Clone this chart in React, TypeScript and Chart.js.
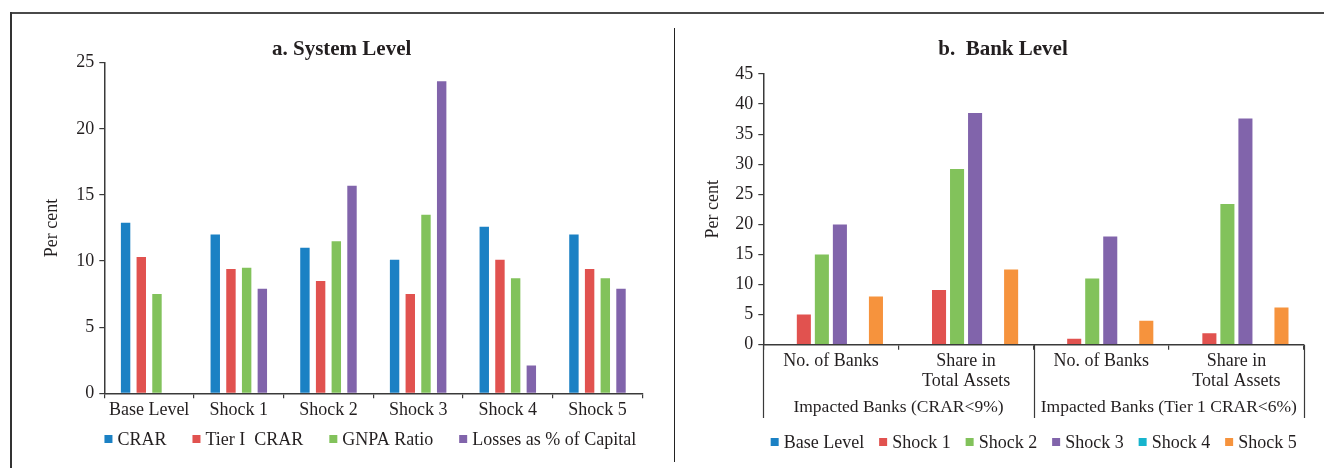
import { useEffect, useRef } from "react";
import { Chart, registerables } from "chart.js";

Chart.register(...registerables);

const SERIF = "'Liberation Serif', 'Times New Roman', serif";
const INK = "#231f20";
const AXIS = "#3a3a3a";

const BLUE = "#1b81c4";
const RED = "#e1524f";
const GREEN = "#82c25b";
const PURPLE = "#8164ab";
const CYAN = "#17b4cd";
const ORANGE = "#f6933d";

// Panel a: system level ratios under each scenario
const systemCategories = ["Base Level", "Shock 1", "Shock 2", "Shock 3", "Shock 4", "Shock 5"];
const crar = [12.9, 12.0, 11.0, 10.1, 12.6, 12.0];
const tier1Crar = [10.3, 9.4, 8.5, 7.5, 10.1, 9.4];
const gnpaRatio = [7.5, 9.5, 11.5, 13.5, 8.7, 8.7];
const lossesPctCapital = [null, 7.9, 15.7, 23.6, 2.1, 7.9];
const systemTicks = [0, 5, 10, 15, 20, 25];

// Panel b: impacted banks under each scenario
const bankCategories = [["No. of Banks"], ["Share in", "Total Assets"], ["No. of Banks"], ["Share in", "Total Assets"]];
const bankGroups = ["Impacted Banks (CRAR<9%)", "Impacted Banks (Tier 1 CRAR<6%)"];
const bankBaseLevel = [0, 0, 0, 0];
const bankShock1 = [5, 9.1, 1, 1.9];
const bankShock2 = [15, 29.2, 11, 23.4];
const bankShock3 = [20, 38.5, 18, 37.6];
const bankShock4 = [0, 0, 0, 0];
const bankShock5 = [8, 12.5, 4, 6.2];
const bankTicks = [0, 5, 10, 15, 20, 25, 30, 35, 40, 45];

// Legend drawn as a single centred row of square swatches under the plot
const rowLegend = {
  id: "rowLegend",
  afterDraw(chart: any, _args: any, opts: any) {
    const { ctx, chartArea } = chart;
    ctx.save();
    ctx.font = `${opts.fontSize}px ${SERIF}`;
    const items = chart.data.datasets.map((ds: any) => ({
      text: ds.label as string,
      color: ds.backgroundColor as string,
      w: ctx.measureText(ds.label).width,
    }));
    const total =
      items.reduce((s: number, it: any) => s + opts.box + opts.textGap + it.w, 0) +
      opts.gap * (items.length - 1);
    let x = (chartArea.left + chartArea.right) / 2 - total / 2 + (opts.shift || 0);
    const y = opts.y;
    ctx.textBaseline = "middle";
    ctx.textAlign = "left";
    for (const it of items) {
      ctx.fillStyle = it.color;
      ctx.fillRect(x, y - opts.box / 2, opts.box, opts.box);
      ctx.fillStyle = INK;
      ctx.fillText(it.text, x + opts.box + opts.textGap, y + 1);
      x += opts.box + opts.textGap + it.w + opts.gap;
    }
    ctx.restore();
  },
};

// Second-level category captions with separators under the x axis
const groupBrackets = {
  id: "groupBrackets",
  afterDraw(chart: any, _args: any, opts: any) {
    const x = chart.scales.x;
    const { ctx } = chart;
    const p0 = x.getPixelForValue(0);
    const half = (x.getPixelForValue(1) - p0) / 2;
    const edge = (i: number) => p0 - half + i * 2 * half;
    ctx.save();
    ctx.strokeStyle = AXIS;
    ctx.lineWidth = 1.2;
    for (const i of [0, 2, 4]) {
      const ex = Math.round(edge(i)) + 0.5;
      ctx.beginPath();
      ctx.moveTo(ex, x.top);
      ctx.lineTo(ex, x.top + opts.depth);
      ctx.stroke();
    }
    ctx.font = `${opts.fontSize}px ${SERIF}`;
    ctx.fillStyle = INK;
    ctx.textAlign = "center";
    ctx.textBaseline = "middle";
    opts.labels.forEach((label: string, g: number) => {
      const cx = (edge(g * 2) + edge(g * 2 + 2)) / 2;
      ctx.fillText(label, cx, x.top + opts.labelY);
    });
    ctx.restore();
  },
};

const tickFont = { family: SERIF, size: 18, lineHeight: 1.1 };

function systemConfig(): any {
  return {
    type: "bar",
    data: {
      labels: systemCategories,
      datasets: [
        { label: "CRAR", data: crar, backgroundColor: BLUE },
        { label: "Tier I  CRAR", data: tier1Crar, backgroundColor: RED },
        { label: "GNPA Ratio", data: gnpaRatio, backgroundColor: GREEN },
        { label: "Losses as % of Capital", data: lossesPctCapital, backgroundColor: PURPLE },
      ],
    },
    options: {
      responsive: false,
      animation: false,
      layout: { padding: { left: 29, right: 31.7, top: 0, bottom: 44.7 } },
      datasets: { bar: { categoryPercentage: 0.7, barPercentage: 0.6, borderWidth: 0 } },
      scales: {
        x: {
          grid: { offset: true, drawOnChartArea: false, drawTicks: true, tickLength: 5, color: AXIS, lineWidth: 1.2 },
          border: { color: AXIS, width: 1.5 },
          ticks: { color: INK, font: tickFont, padding: 2, maxRotation: 0, autoSkip: false },
          afterFit: (s: any) => {
            s.height = 30;
          },
        },
        y: {
          min: 0,
          max: 25,
          afterBuildTicks: (s: any) => {
            s.ticks = systemTicks.map((value) => ({ value }));
          },
          grid: { drawOnChartArea: false, tickLength: 5, color: AXIS, lineWidth: 1.2 },
          border: { color: AXIS, width: 1.5 },
          ticks: { color: INK, font: tickFont, padding: 5 },
          title: { display: true, text: "Per cent", color: INK, font: { family: SERIF, size: 18 }, padding: 0 },
          afterFit: (s: any) => {
            s.width = 63.3;
          },
        },
      },
      plugins: {
        legend: { display: false },
        tooltip: { enabled: false },
        title: {
          display: true,
          text: "a. System Level",
          color: INK,
          font: { family: SERIF, size: 21, weight: "bold" },
          padding: { top: 23.4, bottom: 0.1 },
        },
        rowLegend: { y: 425, fontSize: 18, box: 8, textGap: 5, gap: 26, shift: -3 },
      },
    },
    plugins: [rowLegend],
  };
}

function bankConfig(): any {
  return {
    type: "bar",
    data: {
      labels: bankCategories,
      datasets: [
        { label: "Base Level", data: bankBaseLevel, backgroundColor: BLUE },
        { label: "Shock 1", data: bankShock1, backgroundColor: RED },
        { label: "Shock 2", data: bankShock2, backgroundColor: GREEN },
        { label: "Shock 3", data: bankShock3, backgroundColor: PURPLE },
        { label: "Shock 4", data: bankShock4, backgroundColor: CYAN },
        { label: "Shock 5", data: bankShock5, backgroundColor: ORANGE },
      ],
    },
    options: {
      responsive: false,
      animation: false,
      layout: { padding: { left: 14, right: 20, top: 0, bottom: 43.3 } },
      datasets: { bar: { categoryPercentage: 0.8, barPercentage: 0.78, borderWidth: 0 } },
      scales: {
        x: {
          grid: { offset: true, drawOnChartArea: false, drawTicks: true, tickLength: 5, color: AXIS, lineWidth: 1.2 },
          border: { color: AXIS, width: 1.5 },
          ticks: { color: INK, font: tickFont, padding: 2, maxRotation: 0, autoSkip: false },
          afterFit: (s: any) => {
            s.height = 80;
          },
        },
        y: {
          min: 0,
          max: 45,
          afterBuildTicks: (s: any) => {
            s.ticks = bankTicks.map((value) => ({ value }));
          },
          grid: { drawOnChartArea: false, tickLength: 5, color: AXIS, lineWidth: 1.2 },
          border: { color: AXIS, width: 1.5 },
          ticks: { color: INK, font: tickFont, padding: 5 },
          title: { display: true, text: "Per cent", color: INK, font: { family: SERIF, size: 18 }, padding: 0 },
          afterFit: (s: any) => {
            s.width = 61.3;
          },
        },
      },
      plugins: {
        legend: { display: false },
        tooltip: { enabled: false },
        title: {
          display: true,
          text: "b.  Bank Level",
          color: INK,
          font: { family: SERIF, size: 21, weight: "bold" },
          padding: { top: 23.4, bottom: 11.4 },
        },
        groupBrackets: { labels: bankGroups, depth: 73.3, labelY: 62.3, fontSize: 17.5 },
        rowLegend: { y: 428, fontSize: 18, box: 8, textGap: 5, gap: 15, shift: 0 },
      },
    },
    plugins: [groupBrackets, rowLegend],
  };
}

export default function App() {
  const leftRef = useRef<HTMLCanvasElement>(null);
  const rightRef = useRef<HTMLCanvasElement>(null);

  useEffect(() => {
    const system = new Chart(leftRef.current!, systemConfig());
    const bank = new Chart(rightRef.current!, bankConfig());
    return () => {
      system.destroy();
      bank.destroy();
    };
  }, []);

  return (
    <div
      style={{
        position: "fixed",
        left: 0,
        top: 0,
        width: 1324,
        height: 468,
        background: "#fff",
        overflow: "hidden",
      }}
    >
      <canvas ref={leftRef} width={662} height={454} style={{ position: "absolute", left: 12, top: 14, width: 662, height: 454 }} />
      <canvas ref={rightRef} width={636} height={454} style={{ position: "absolute", left: 688, top: 14, width: 636, height: 454 }} />
      <div style={{ position: "absolute", left: 10, top: 12, width: 1314, height: 2, background: "#4a4a4a" }} />
      <div style={{ position: "absolute", left: 10, top: 12, width: 2, height: 456, background: "#333" }} />
      <div style={{ position: "absolute", left: 674, top: 28, width: 1, height: 434, background: "#222" }} />
    </div>
  );
}
